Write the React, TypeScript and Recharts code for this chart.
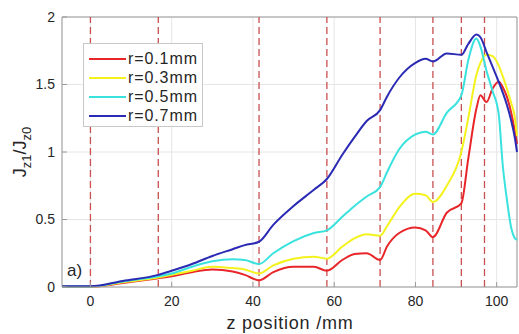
import React from 'react';
import {
  LineChart,
  Line,
  XAxis,
  YAxis,
  CartesianGrid,
  ReferenceLine,
  Legend,
} from 'recharts';

// z positions (mm) where the curves were sampled
const zPos = [
  -7, 0, 8, 16.7, 20, 25, 30, 35, 38, 41.5, 45, 50, 55, 58.2, 62, 65, 68, 71.3, 73, 76, 80,
  82.5, 84.3, 87.7, 91.3, 93, 95, 96, 97.5, 99, 100.5, 101.5, 102.5, 103.5, 104.5, 105,
];

// J_z1 / J_z0 for each radius
const r01 = [
  0.001, 0.001, 0.03, 0.065, 0.08, 0.11, 0.13, 0.115, 0.09, 0.05, 0.11, 0.15, 0.15, 0.12, 0.2,
  0.245, 0.25, 0.2, 0.3, 0.4, 0.44, 0.42, 0.37, 0.55, 0.62, 0.95, 1.32, 1.42, 1.37, 1.47, 1.52,
  1.48, 1.41, 1.3, 1.15, 1.06,
];
const r03 = [
  0.002, 0.002, 0.035, 0.07, 0.09, 0.12, 0.15, 0.14, 0.13, 0.1, 0.16, 0.21, 0.225, 0.21, 0.3,
  0.36, 0.39, 0.38, 0.45, 0.59, 0.69, 0.68, 0.63, 0.75, 1.0, 1.25, 1.57, 1.66, 1.72, 1.71, 1.64,
  1.56, 1.47, 1.37, 1.25, 1.12,
];
const r05 = [
  0.003, 0.003, 0.04, 0.08, 0.1, 0.15, 0.19, 0.205, 0.2, 0.17, 0.25, 0.34, 0.4, 0.42, 0.52, 0.6,
  0.67, 0.74, 0.85, 1.02, 1.13, 1.15, 1.13, 1.29, 1.42, 1.68, 1.84, 1.78, 1.6, 1.45, 1.28, 0.9,
  0.65, 0.45, 0.36, 0.35,
];
const r07 = [
  0.005, 0.005, 0.045, 0.09, 0.12, 0.17, 0.23, 0.28, 0.31, 0.335, 0.46, 0.6, 0.72, 0.8, 0.98,
  1.11, 1.23, 1.31, 1.41, 1.55, 1.66, 1.69, 1.67, 1.73, 1.72, 1.8, 1.87, 1.85, 1.74, 1.63, 1.52,
  1.44, 1.35, 1.24, 1.1, 1.0,
];

// section boundaries (dashed red lines)
const boundaries = [0, 16.7, 41.5, 58.2, 71.3, 84.3, 91.3, 97];

const xTicks = [0, 20, 40, 60, 80, 100];
const yTicks = [0, 0.5, 1, 1.5, 2];

const series = [
  { key: 'r01', name: 'r=0.1mm', color: '#e8262a' },
  { key: 'r03', name: 'r=0.3mm', color: '#f4f21c' },
  { key: 'r05', name: 'r=0.5mm', color: '#3ae2de' },
  { key: 'r07', name: 'r=0.7mm', color: '#2a2ab4' },
];

const data = zPos.map((z, i) => ({ z, r01: r01[i], r03: r03[i], r05: r05[i], r07: r07[i] }));

const font = '"Liberation Sans", Arial, sans-serif';

function LegendBox() {
  return (
    <div
      style={{
        background: '#fff',
        border: '1px solid #c8c8c8',
        width: 120,
        height: 84,
        boxSizing: 'border-box',
        paddingTop: 5,
        fontFamily: font,
        fontSize: 16,
        color: '#262626',
      }}
    >
      {series.map((s) => (
        <div key={s.key} style={{ display: 'flex', alignItems: 'center', height: 19 }}>
          <span
            style={{ display: 'inline-block', width: 37, height: 2, background: s.color, marginLeft: 5 }}
          />
          <span style={{ marginLeft: 2, letterSpacing: 0.9 }}>{s.name}</span>
        </div>
      ))}
    </div>
  );
}

function YLabel() {
  return (
    <text
      transform="rotate(-90, 26, 152)"
      x={26}
      y={152}
      textAnchor="middle"
      fontFamily={font}
      fontSize={18}
      fill="#262626"
    >
      <tspan>J</tspan>
      <tspan fontSize={13} dy={5}>z1</tspan>
      <tspan dy={-5}>/J</tspan>
      <tspan fontSize={13} dy={5}>z0</tspan>
    </text>
  );
}

function XLabel() {
  return (
    <g>
      <text x={290} y={329} textAnchor="middle" fontFamily={font} fontSize={18} letterSpacing={0.8} fill="#262626">
        z position /mm
      </text>
      <text x={67} y={276} fontFamily={font} fontSize={17} fill="#262626">
        a)
      </text>
    </g>
  );
}

export default function App() {
  return (
    <div style={{ position: 'absolute', left: 0, top: 0, background: '#fff' }}>
      <LineChart width={519} height={334} data={data} margin={{ top: 17, right: 2, left: 0, bottom: 0 }}>
        <CartesianGrid stroke="#e6e6e6" />
        <XAxis
          dataKey="z"
          type="number"
          domain={[-7, 105]}
          ticks={xTicks}
          height={47}
          stroke="#9a9a9a"
          tickSize={-5}
          tickMargin={14}
          tick={{ fontSize: 14, fill: '#262626', fontFamily: font }}
          label={{ content: () => <XLabel /> }}
        />
        <YAxis
          type="number"
          domain={[0, 2]}
          ticks={yTicks}
          width={62}
          stroke="#9a9a9a"
          tickSize={-5}
          tickMargin={12}
          tick={{ fontSize: 14, fill: '#262626', fontFamily: font }}
          label={{ content: () => <YLabel /> }}
        />
        <ReferenceLine y={2} stroke="#9a9a9a" />
        <ReferenceLine x={105} stroke="#9a9a9a" />
        {boundaries.map((b) => (
          <ReferenceLine key={b} x={b} stroke="#c85050" strokeWidth={1.3} strokeDasharray="7 4" />
        ))}
        {series.map((s) => (
          <Line
            key={s.key}
            dataKey={s.key}
            name={s.name}
            type="monotone"
            stroke={s.color}
            strokeWidth={2}
            dot={false}
            isAnimationActive={false}
          />
        ))}
        <Legend
          layout="vertical"
          align="center"
          verticalAlign="middle"
          content={() => <LegendBox />}
          wrapperStyle={{ left: 83, top: 43, width: 120, height: 84 }}
        />
      </LineChart>
    </div>
  );
}
